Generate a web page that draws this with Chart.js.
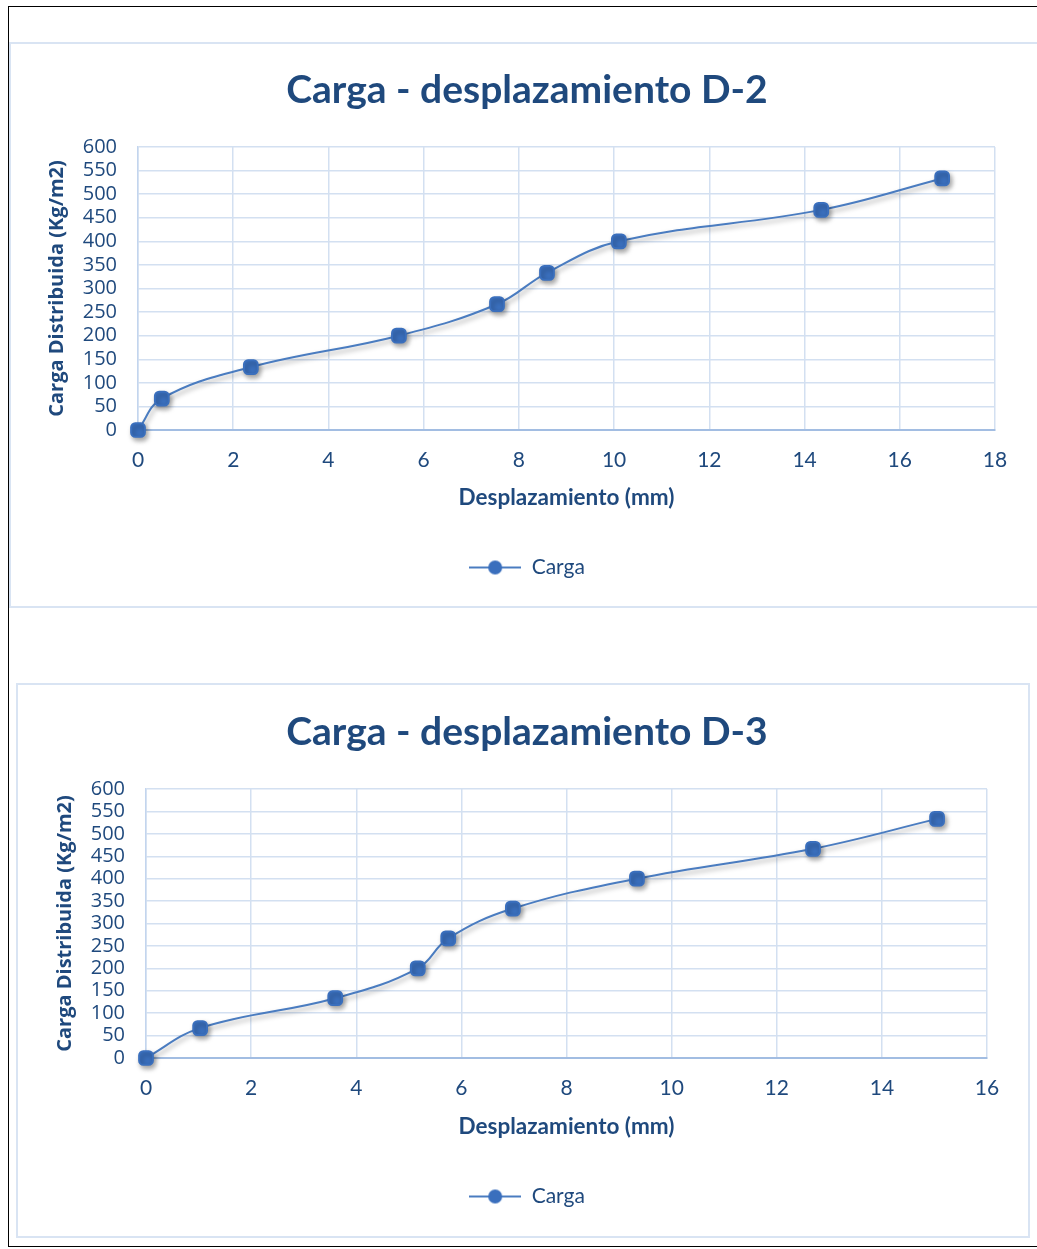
<!DOCTYPE html>
<html>
<head>
<meta charset="utf-8">
<script src="https://cdn.jsdelivr.net/npm/chart.js@4.4.1/dist/chart.umd.min.js"></script>
<style>
  body { margin: 0; background: #fff; width: 1037px; height: 1249px; overflow: hidden; position: relative; }
  #frame { position: absolute; left: 8px; top: 6px; width: 1100px; height: 1241px; border: 1px solid #000; box-sizing: border-box; }
  .box { position: absolute; border: 2px solid #D9E4F3; box-sizing: border-box; }
  canvas { position: absolute; }
</style>
</head>
<body>
<div id="frame"></div>
<div class="box" style="left:9px; top:42px; width:1030px; height:566px;"></div>
<div class="box" style="left:16px; top:683px; width:1014px; height:555px;"></div>
<canvas id="chartD2" width="1026" height="563" style="left:10px; top:43px;"></canvas>
<canvas id="chartD3" width="1012" height="552" style="left:17px; top:684px;"></canvas>

<script>
// datos
const cargaD2 = [0, 66.67, 133.33, 200, 266.67, 333.33, 400, 466.67, 533.33];
const desplD2 = [0, 0.5, 2.37, 5.48, 7.54, 8.59, 10.1, 14.35, 16.89];

const cargaD3 = [0, 66.67, 133.33, 200, 266.67, 333.33, 400, 466.67, 533.33];
const desplD3 = [0, 1.03, 3.6, 5.17, 5.75, 6.98, 9.34, 12.69, 15.05];

const yTicksStep = 50;
const yMax = 600;
const xTicksStep = 2;

const textColor = '#1F497D';
const lineColor = '#4A7CC0';
const markerColor = '#3A6FBD';
const gridColor = '#D3E0F1';

// marcador de la leyenda: linea con circulo
function legendMarker() {
  let c = document.createElement('canvas');
  c.width = 52;
  c.height = 16;
  let ctx = c.getContext('2d');
  ctx.strokeStyle = lineColor;
  ctx.lineWidth = 2;
  ctx.beginPath();
  ctx.moveTo(0, 8);
  ctx.lineTo(52, 8);
  ctx.stroke();
  ctx.fillStyle = markerColor;
  ctx.beginPath();
  ctx.arc(26, 8, 7, 0, Math.PI * 2);
  ctx.fill();
  return c;
}

const shadowPlugin = {
  id: 'shadow',
  beforeDatasetsDraw(chart) {
    let ctx = chart.ctx;
    ctx.save();
    ctx.shadowColor = 'rgba(0,0,0,0.35)';
    ctx.shadowBlur = 5;
    ctx.shadowOffsetX = 2;
    ctx.shadowOffsetY = 3;
  },
  afterDatasetsDraw(chart) {
    chart.ctx.restore();
  }
};

function makeChart(id, titulo, xs, ys, xMax, g) {
  let points = [];
  for (let i = 0; i < xs.length; i++) {
    points.push({ x: xs[i], y: ys[i] });
  }
  let marker = legendMarker();

  return new Chart(document.getElementById(id), {
    type: 'scatter',
    data: {
      datasets: [{
        label: 'Carga',
        data: points,
        showLine: true,
        tension: 0.4,
        borderColor: lineColor,
        borderWidth: 2,
        backgroundColor: markerColor,
        pointBackgroundColor: markerColor,
        pointBorderColor: markerColor,
        pointStyle: 'rectRounded',
        pointRadius: 8,
        clip: false
      }]
    },
    options: {
      responsive: false,
      animation: false,
      layout: {
        padding: { left: g.padLeft, right: g.padRight, top: 0, bottom: g.padBottom }
      },
      scales: {
        x: {
          type: 'linear',
          min: 0,
          max: xMax,
          ticks: {
            stepSize: xTicksStep,
            autoSkip: false,
            color: textColor,
            font: { family: 'Lato', size: 21 },
            padding: 18
          },
          grid: { color: gridColor, lineWidth: 1.5, drawTicks: false },
          border: { color: '#A2BDE2', width: 2 },
          title: {
            display: true,
            text: 'Desplazamiento (mm)',
            color: textColor,
            font: { family: 'Lato', size: 22.5, weight: 'bold' },
            padding: { top: 0, bottom: g.xTitleBottom }
          },
          afterFit(s) { s.height = g.xHeight; }
        },
        y: {
          min: 0,
          max: yMax,
          ticks: {
            stepSize: yTicksStep,
            autoSkip: false,
            color: textColor,
            font: { family: 'Open Sans', size: 20 },
            padding: 21
          },
          grid: { color: gridColor, lineWidth: 1.5, drawTicks: false },
          border: { color: '#C3D5EE', width: 1.5 },
          title: {
            display: true,
            text: 'Carga Distribuida (Kg/m2)',
            color: textColor,
            font: { family: 'Open Sans', size: 20, weight: 'bold' },
            padding: { top: g.yTitleTop, bottom: 0 }
          },
          afterFit(s) { s.width = g.yWidth; }
        },
        y2: {
          position: 'right',
          display: true,
          ticks: { display: false },
          grid: { display: false },
          border: { display: false },
          afterFit(s) { s.width = g.y2Width; }
        }
      },
      plugins: {
        title: {
          display: true,
          text: titulo,
          color: textColor,
          font: { family: 'Lato', size: 39, weight: 'bold' },
          padding: { top: g.titleTop, bottom: g.titleBottom }
        },
        legend: {
          position: 'bottom',
          labels: {
            color: textColor,
            font: { family: 'Lato', size: 21 },
            usePointStyle: true,
            pointStyleWidth: 52,
            generateLabels(chart) {
              return [{
                text: 'Carga',
                pointStyle: marker,
                fillStyle: markerColor,
                strokeStyle: markerColor,
                fontColor: textColor,
                lineWidth: 0,
                datasetIndex: 0
              }];
            }
          }
        },
        tooltip: { enabled: false }
      }
    },
    plugins: [shadowPlugin]
  });
}

makeChart('chartD2', 'Carga - desplazamiento D-2', desplD2, cargaD2, 18, {
  padLeft: 24, padRight: 16, padBottom: 18,
  yWidth: 104, y2Width: 25, yTitleTop: 11.5,
  xHeight: 117, xTitleBottom: 36,
  titleTop: 24, titleBottom: 33.2
});

makeChart('chartD3', 'Carga - desplazamiento D-3', desplD3, cargaD3, 16, {
  padLeft: 24, padRight: 16, padBottom: 19,
  yWidth: 105, y2Width: 26, yTitleTop: 12.5,
  xHeight: 118, xTitleBottom: 35.4,
  titleTop: 25, titleBottom: 33.2
});
</script>
</body>
</html>
